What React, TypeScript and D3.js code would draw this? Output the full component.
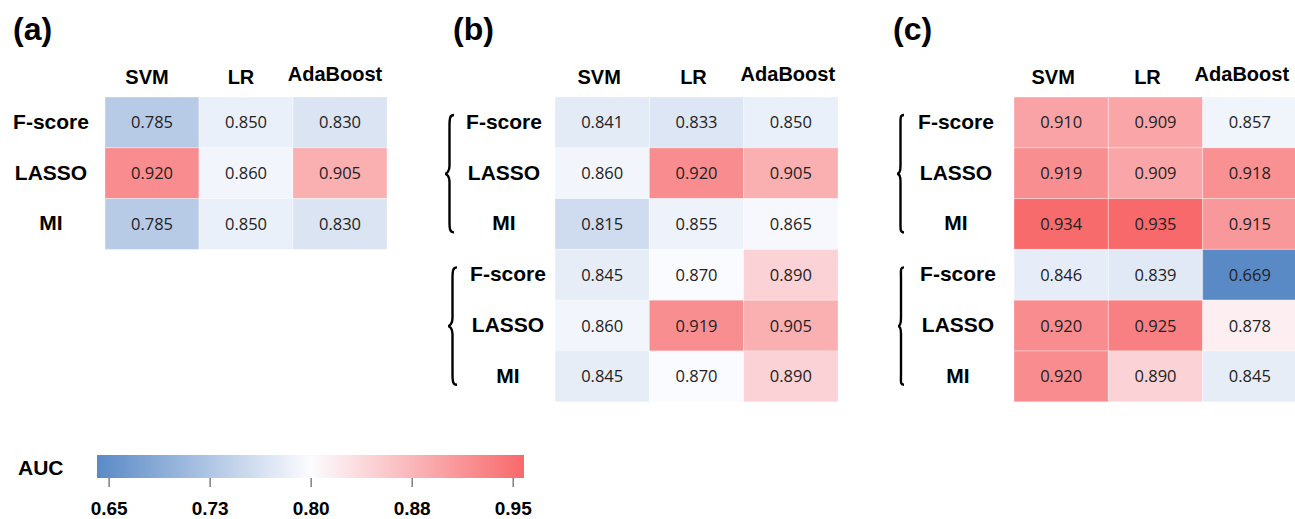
import React from "react";
import * as d3 from "d3";

// rows / columns of every heatmap
const models = ["SVM", "LR", "AdaBoost"];
const selectors = ["F-score", "LASSO", "MI"];

// AUC values (rows = selectors, cols = models)
const aucA = [
  [0.785, 0.85, 0.83],
  [0.92, 0.86, 0.905],
  [0.785, 0.85, 0.83],
];
const aucB = [
  [0.841, 0.833, 0.85],
  [0.86, 0.92, 0.905],
  [0.815, 0.855, 0.865],
  [0.845, 0.87, 0.89],
  [0.86, 0.919, 0.905],
  [0.845, 0.87, 0.89],
];
const aucC = [
  [0.91, 0.909, 0.857],
  [0.919, 0.909, 0.918],
  [0.934, 0.935, 0.915],
  [0.846, 0.839, 0.669],
  [0.92, 0.925, 0.878],
  [0.92, 0.89, 0.845],
];

// colour scale (blue - white - red)
const colorStops = [0.669, 0.872, 0.935];
const colorRange = ["#5a8ac6", "#fcfcff", "#f8696b"];

// legend
const legendDomain = [0.641, 0.958];
const legendTicks = [0.65, 0.725, 0.8, 0.875, 0.95];
const legendTickLabels = ["0.65", "0.73", "0.80", "0.88", "0.95"];

const boldFont = "'Liberation Sans', Arial, sans-serif";
const numFont = "'Open Sans', 'Noto Sans', sans-serif";

const color = d3.scaleLinear<string>().domain(colorStops).range(colorRange).clamp(true);
const fmt = d3.format(".3f");

type PanelProps = {
  title: string;
  titleX: number;
  left: number;
  width: number;
  data: number[][];
  labelX: number[];
  headerDx: number;
  brace?: { right: number; tip: number }[];
};

const top = 97;
const rowH = 50.8;

function bracePath(xr: number, xt: number, y0: number, y1: number) {
  const xm = (xr + xt) / 2;
  const ym = (y0 + y1) / 2;
  return `M${xr},${y0} C${xr - 4},${y0} ${xm},${y0 + 3} ${xm},${y0 + 11}
    L${xm},${ym - 8} C${xm},${ym - 3} ${xt + 2},${ym} ${xt},${ym}
    C${xt + 2},${ym} ${xm},${ym + 3} ${xm},${ym + 8}
    L${xm},${y1 - 11} C${xm},${y1 - 3} ${xr - 4},${y1} ${xr},${y1}`;
}

const Panel = ({ title, titleX, left, width, data, labelX, headerDx, brace }: PanelProps) => {
  const x = d3.scaleBand().domain(models).range([left, left + width]);
  const y = d3
    .scaleBand<number>()
    .domain(d3.range(data.length))
    .range([top, top + rowH * data.length]);

  return (
    <g>
      <text x={titleX} y={40} fontFamily={boldFont} fontWeight="bold" fontSize={32}>
        {title}
      </text>

      {models.map((m, j) => (
        <text
          key={m}
          x={x(m)! + x.bandwidth() / 2 + headerDx}
          y={j === 2 ? 81 : 84}
          textAnchor="middle"
          fontFamily={boldFont}
          fontWeight="bold"
          fontSize={20}
        >
          {m}
        </text>
      ))}

      {data.map((row, i) =>
        row.map((v, j) => (
          <g key={i + "-" + j}>
            <rect
              x={x(models[j])}
              y={y(i)}
              width={x.bandwidth()}
              height={y.bandwidth()}
              fill={color(v)}
              stroke="#ffffff"
              strokeOpacity={0.35}
              strokeWidth={1}
            />
            <text
              x={x(models[j])! + x.bandwidth() / 2}
              y={y(i)! + y.bandwidth() / 2}
              dy="0.36em"
              textAnchor="middle"
              fontFamily={numFont}
              fontSize={16.5}
              fill="#222"
            >
              {fmt(v)}
            </text>
          </g>
        ))
      )}

      {data.map((_, i) => (
        <text
          key={"l" + i}
          x={labelX[Math.floor(i / 3)]}
          y={y(i)! + y.bandwidth() / 2}
          dy="0.3em"
          textAnchor="middle"
          fontFamily={boldFont}
          fontWeight="bold"
          fontSize={21}
        >
          {selectors[i % 3]}
        </text>
      ))}

      {brace &&
        brace.map((b, g) => (
          <path
            key={"b" + g}
            d={bracePath(b.right, b.tip, y(g * 3)! + 18, y(g * 3 + 2)! + y.bandwidth() - 17)}
            fill="none"
            stroke="#000"
            strokeWidth={2.4}
          />
        ))}
    </g>
  );
};

const Legend = () => {
  const lx = d3.scaleLinear().domain(legendDomain).range([97, 524]);
  const whiteAt = (0.8 - legendDomain[0]) / (legendDomain[1] - legendDomain[0]);
  return (
    <g>
      <defs>
        <linearGradient id="aucGrad" x1="0" x2="1" y1="0" y2="0">
          <stop offset="0" stopColor={colorRange[0]} />
          <stop offset={whiteAt} stopColor={colorRange[1]} />
          <stop offset="1" stopColor={colorRange[2]} />
        </linearGradient>
      </defs>
      <text x={18} y={467} dy="0.36em" fontFamily={boldFont} fontWeight="bold" fontSize={21}>
        AUC
      </text>
      <rect x={lx(legendDomain[0])} y={455} width={lx(legendDomain[1]) - lx(legendDomain[0])} height={23} fill="url(#aucGrad)" />
      {legendTicks.map((t, i) => (
        <g key={t}>
          <line x1={lx(t)} x2={lx(t)} y1={478} y2={487} stroke="#808080" strokeWidth={1.5} />
          <text x={lx(t)} y={515} textAnchor="middle" fontFamily={boldFont} fontWeight="bold" fontSize={19}>
            {legendTickLabels[i]}
          </text>
        </g>
      ))}
    </g>
  );
};

export default function App() {
  return (
    <svg width={1295} height={519} style={{ position: "absolute", left: 0, top: 0, background: "#fff" }}>
      <Panel title="(a)" titleX={13} left={105} width={282} data={aucA} labelX={[51]} headerDx={-5} />
      <Panel
        title="(b)"
        titleX={453}
        left={555}
        width={283}
        data={aucB}
        labelX={[504, 508]}
        headerDx={-3}
        brace={[
          { right: 454, tip: 445 },
          { right: 457, tip: 448 },
        ]}
      />
      <Panel
        title="(c)"
        titleX={893}
        left={1014}
        width={283}
        data={aucC}
        labelX={[956, 958]}
        headerDx={-8}
        brace={[
          { right: 904, tip: 897 },
          { right: 904, tip: 898 },
        ]}
      />
      <Legend />
    </svg>
  );
}
